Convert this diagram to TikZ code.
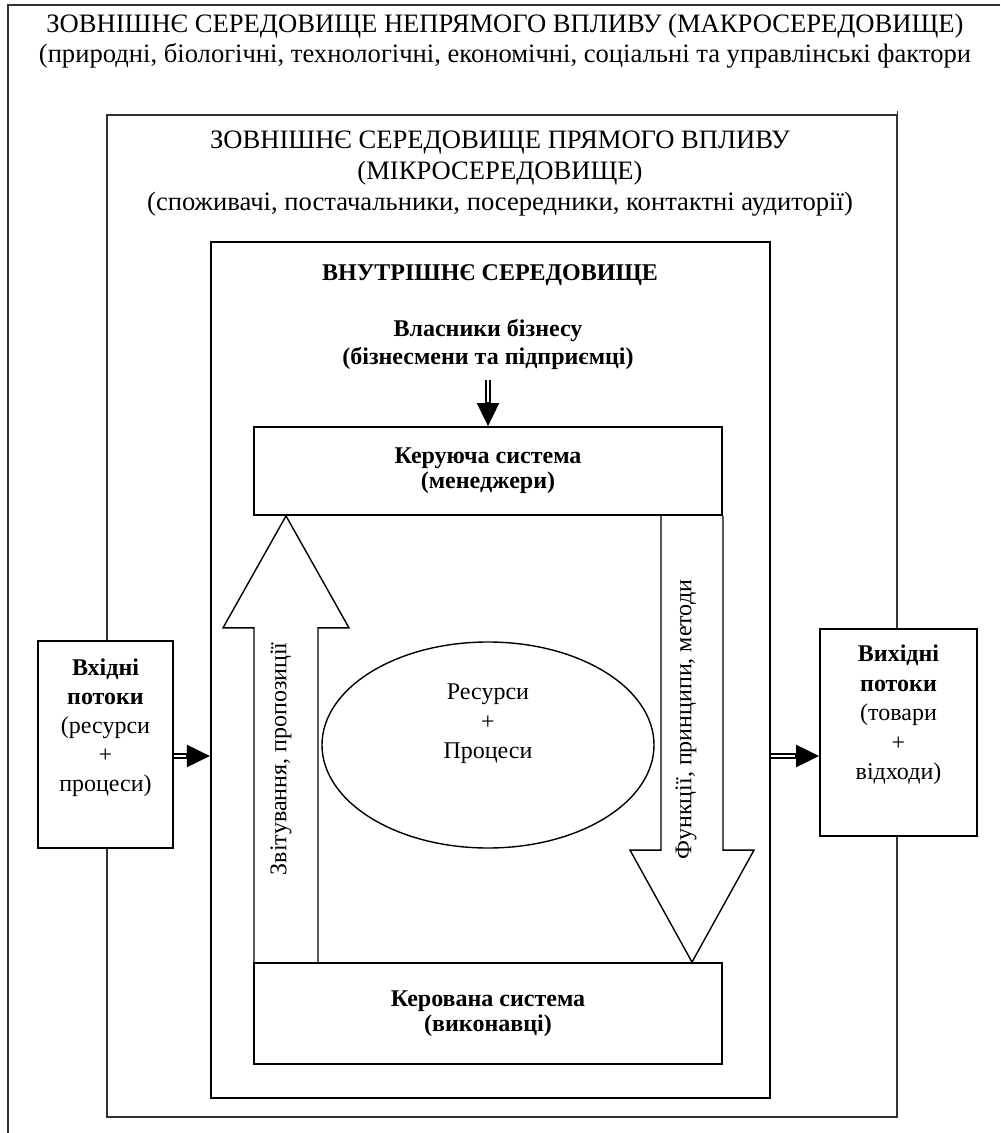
\documentclass[tikz,border=0pt]{standalone}
\usepackage{fontspec}
\setmainfont{Liberation Serif}
\usetikzlibrary{arrows.meta,calc,positioning,shapes.geometric}

\begin{document}
\begin{tikzpicture}
    [x=0.5pt, y=-0.5pt,
    % STYLES
    every node/.style={inner sep=0pt},
    % plain text at the size used in the whole picture
    txt/.style={align=center, font=\fontsize{12}{14.5}\selectfont},
    boldtxt/.style={align=center, font=\bfseries\fontsize{12}{14}\selectfont},
    % the headings of the outer environments are a little larger
    headtxt/.style={align=center, font=\fontsize{13.3}{15.5}\selectfont},
    % the frames of the environments
    frame/.style={draw=black!80, line width=0.6pt},
    innerframe/.style={rectangle, draw, line width=1.1pt},
    % the boxes of the managing and the managed system
    system/.style={rectangle, draw, line width=0.9pt, minimum width=234pt, align=center, font=\bfseries\fontsize{12}{12.5}\selectfont},
    % the boxes of the input and output flows
    flowbox/.style={rectangle, draw, line width=0.9pt, fill=white, minimum height=103.5pt},
    % arrows
    blockarrow/.style={draw, line width=0.7pt, line join=miter},
    dblshaft/.style={double, double distance=1.2pt, line width=1pt},
    dblhead/.style={-{Triangle[length=11.5pt, width=11pt]}, line width=1pt}]

    \useasboundingbox (0,0) rectangle (1000,1133);

    % Macro environment (only its top and left sides are seen)
    \draw[frame] (1000,5) -- (8,5) -- (8,1133);
    \node[headtxt, anchor=north, font=\fontsize{13.3}{15}\selectfont] (macrotext) at (505,14)
        {ЗОВНІШНЄ СЕРЕДОВИЩЕ НЕПРЯМОГО ВПЛИВУ (МАКРОСЕРЕДОВИЩЕ)\\
         (природні, біологічні, технологічні, економічні, соціальні та управлінські фактори};

    % Micro environment
    \node[frame, minimum width=395pt, minimum height=501pt] (micro) at (502,616) {};
    \draw[frame] (micro.north east) -- ++(0,-3);
    \node[headtxt, anchor=north] (microtext) at (500,130)
        {ЗОВНІШНЄ СЕРЕДОВИЩЕ ПРЯМОГО ВПЛИВУ\\
         (МІКРОСЕРЕДОВИЩЕ)\\
         (споживачі, постачальники, посередники, контактні аудиторії)};

    % Internal environment
    \node[innerframe, minimum width=279.5pt, minimum height=428pt] (inner) at (490.5,670) {};
    \node[boldtxt, anchor=base] (innertitle) at (490,281) {ВНУТРІШНЄ СЕРЕДОВИЩЕ};
    \node[boldtxt] (owners) at (488,344) {Власники бізнесу\\(бізнесмени та підприємці)};

    \node[system, minimum height=44pt] (ctrl) at (488,471) {Керуюча система\\(менеджери)};
    \node[system, minimum height=50.5pt] (exec) at (488,1013.5) {Керована система\\(виконавці)};

    \node[ellipse, draw, line width=0.7pt, minimum width=166pt, minimum height=103pt] (res) at (488,745) {};
    \node[txt, font=\fontsize{12}{14.75}\selectfont] (restext) at (488,724) {Ресурси\\+\\Процеси};

    % Input and output flows
    \node[flowbox, minimum width=67.5pt] (inbox) at (105.5,744.5) {};
    \node[txt] (intext) at (105.5,728) {\textbf{Вхідні}\\\textbf{потоки}\\(ресурси\\+\\процеси)};
    \node[flowbox, minimum width=78.5pt] (outbox) at (898.5,732.5) {};
    \node[txt, font=\fontsize{12}{14.75}\selectfont] (outtext) at (898.5,715) {\textbf{Вихідні}\\\textbf{потоки}\\(товари\\+\\відходи)};

    % Block arrows between the systems
    \coordinate (upaxis) at (286,0);
    \coordinate (dnaxis) at (692,0);
    \draw[blockarrow] ($(exec.north -| upaxis)+(-32,0)$) -- ($(ctrl.south -| upaxis)+(-32,112)$) -- ++(-31,0)
        -- (ctrl.south -| upaxis) -- ($(ctrl.south -| upaxis)+(63,112)$) -- ++(-31,0) -- ($(exec.north -| upaxis)+(32,0)$);
    \draw[blockarrow] ($(ctrl.south -| dnaxis)+(-31,0)$) -- ($(exec.north -| dnaxis)+(-31,-112)$) -- ++(-31,0)
        -- (exec.north -| dnaxis) -- ($(exec.north -| dnaxis)+(62,-112)$) -- ++(-31,0) -- ($(ctrl.south -| dnaxis)+(31,0)$);
    \node[txt, rotate=90, anchor=east] (reptext) at (281,642) {Звітування, пропозиції};
    \node[txt, rotate=90, anchor=west] (functext) at (686,860) {Функції, принципи, методи};

    % Double arrows
    \coordinate (flowy) at (0,756);
    \draw[dblshaft, shorten >=10pt] (inbox.east |- flowy) -- (inner.west |- flowy);
    \draw[dblhead] ($(inner.west |- flowy)+(-12pt,0)$) -- (inner.west |- flowy);
    \draw[dblshaft, shorten >=10pt] (inner.east |- flowy) -- (outbox.west |- flowy);
    \draw[dblhead] ($(outbox.west |- flowy)+(-12pt,0)$) -- (outbox.west |- flowy);
    \draw[dblshaft, shorten <=5pt, shorten >=10pt] (owners.south) -- (ctrl.north);
    \draw[dblhead] ($(ctrl.north)+(0,12pt)$) -- (ctrl.north);
\end{tikzpicture}
\end{document}
